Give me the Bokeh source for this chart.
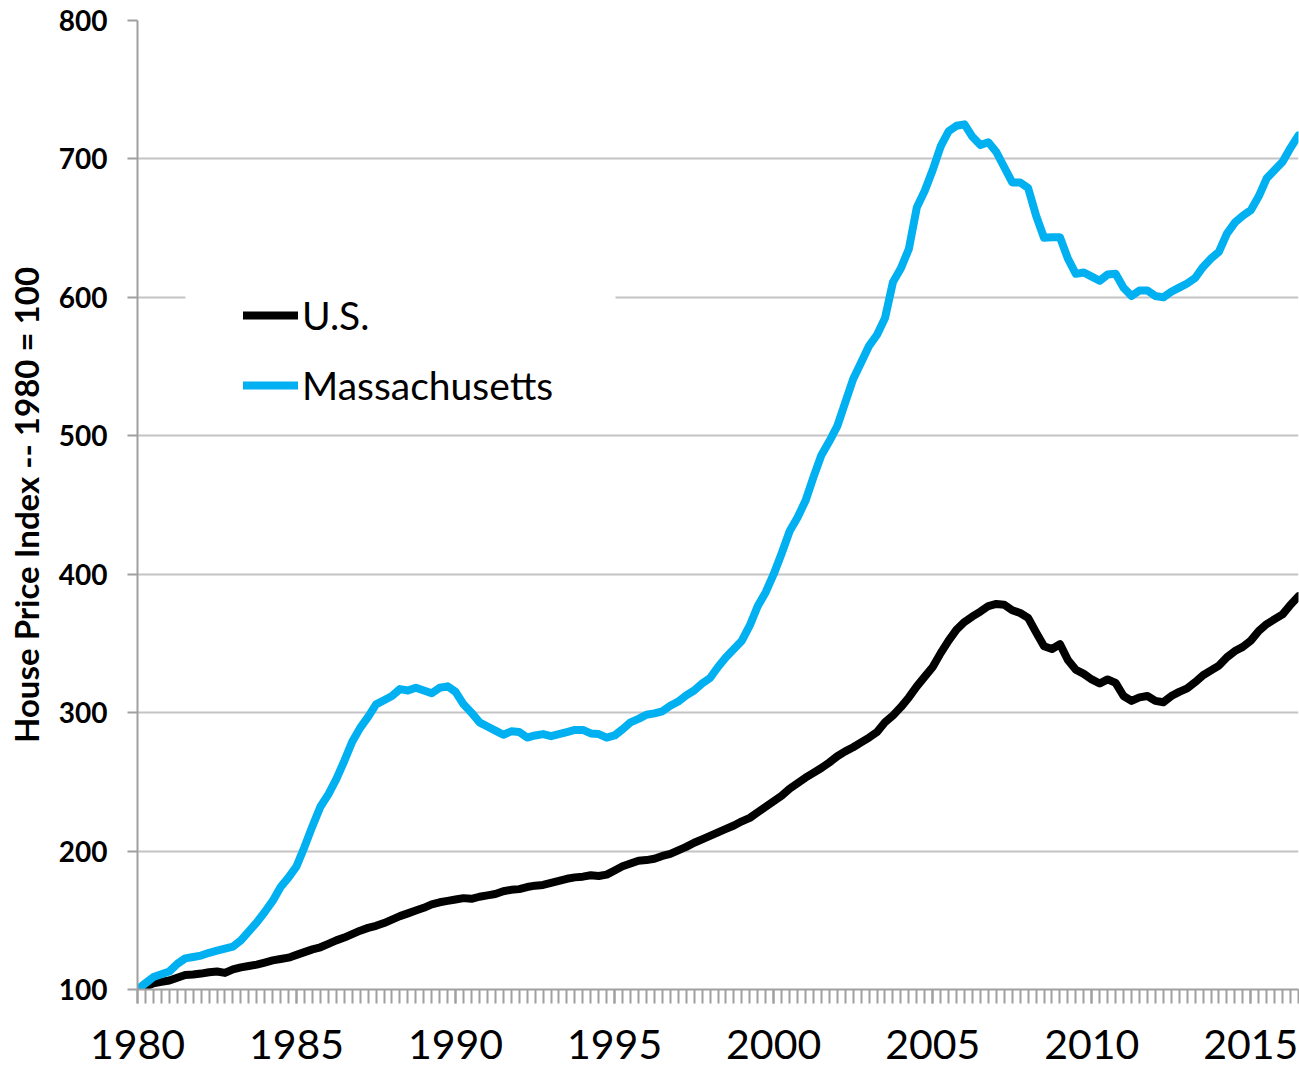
from bokeh.plotting import figure
from bokeh.models import (Range1d, SingleIntervalTicker, Legend, LegendItem,
                          BoxAnnotation, ColumnDataSource)
from bokeh.embed import file_html
from bokeh.resources import INLINE

# ---------------- data (quarterly, 1980Q1 .. 2016Q3) ----------------
start_year = 1980
quarters = [f"{start_year + i // 4}Q{i % 4 + 1}" for i in range(147)]

us = [100, 102, 104.5, 105.5, 106.5, 108.5, 110.5, 110.8, 111.5, 112.5,
      113, 112, 114.5, 116, 117, 118, 119.5, 121, 122, 123,
      125, 127, 129, 130.5, 133, 135.5, 137.5, 140, 142.5, 144.5,
      146, 148, 150.5, 153, 155, 157, 159, 161.5, 163, 164,
      165, 166, 165.5, 167, 168, 169, 171, 172, 172.5, 174,
      175, 175.5, 177, 178.5, 180, 181, 181.5, 182.5, 182, 183,
      186, 189, 191, 193, 193.5, 194.5, 196.5, 198, 200.5, 203,
      206, 208.5, 211, 213.5, 216, 218.5, 221.5, 224, 228, 232,
      236, 240, 245, 249, 253, 256.5, 260, 264, 268.5, 272,
      275, 278.5, 282, 286, 293, 298, 304, 311, 319, 326,
      333, 343, 352, 360, 365.5, 369.5, 373, 377, 378.5, 378,
      374, 372, 368.5, 358, 348, 346, 349.5, 338, 331, 328,
      324, 321, 324, 321.5, 312, 308.5, 311, 312, 308.5, 307.5,
      312, 315, 317.5, 322, 327, 330.5, 334, 340, 344.5, 347.5,
      352, 359, 364, 367.5, 371, 378, 384]

massachusetts = [100, 104.5, 109, 111, 113, 118.5, 122.5, 123.5, 124.5, 126.5,
                 128, 129.5, 131, 135.5, 142, 148.5, 156, 164, 174, 181,
                 189, 203, 218, 232, 241, 252, 265, 279, 289, 297,
                 306, 309, 312, 317, 316, 318, 316, 314, 318, 319,
                 315, 306, 300, 293, 290, 287, 284, 286.5, 286, 282,
                 283.5, 284.5, 283, 284.5, 286, 287.5, 287.5, 285, 284.5, 282,
                 283.5, 288, 293, 295.5, 298.5, 299.5, 301, 305, 308, 312.5,
                 316, 321, 325, 333, 340, 346, 352, 363, 377, 387,
                 400, 415, 431, 441, 453, 470, 486, 496, 507, 524,
                 541, 553, 565, 573, 585, 611, 621, 635, 665, 677,
                 692, 709, 720, 724, 725, 716, 710, 712, 705, 694,
                 683, 683, 679, 659, 643, 643.5, 643.5, 628, 617, 618,
                 615, 612, 616.5, 617, 607, 601, 605, 605, 601, 600,
                 604, 607, 610, 614, 622, 628, 633, 646, 654, 659,
                 663, 673, 686, 692, 698, 708, 717]

series_names = ["U.S.", "Massachusetts"]
y_title = "House Price Index -- 1980 = 100"

# numeric x position of each quarter
x = [int(q[:4]) + (int(q[-1]) - 1) / 4 for q in quarters]
src = ColumnDataSource(dict(x=x, us=us, ma=massachusetts))

FONT = "Lato"

p = figure(width=1299, height=1071, output_backend="svg", toolbar_location=None,
           x_range=Range1d(x[0], x[-1]), y_range=Range1d(100, 800),
           min_border_left=137, min_border_right=1, min_border_top=20,
           min_border_bottom=82)
p.outline_line_color = None
p.background_fill_color = "white"

# grid
p.xgrid.grid_line_color = None
p.ygrid.grid_line_color = "#C4C4C4"
p.ygrid.grid_line_width = 2

# x axis
xa = p.xaxis[0]
xa.ticker = SingleIntervalTicker(interval=5, num_minor_ticks=20)
xa.axis_line_color = "#A0A0A0"
xa.axis_line_width = 2
xa.major_tick_line_color = "#A0A0A0"
xa.minor_tick_line_color = "#A0A0A0"
xa.major_tick_line_width = 2
xa.minor_tick_line_width = 2
xa.major_tick_in = 0
xa.minor_tick_in = 0
xa.major_tick_out = 14
xa.minor_tick_out = 14
xa.major_label_text_font = FONT
xa.major_label_text_font_size = "41px"
xa.major_label_text_color = "black"
xa.major_label_standoff = 26

# y axis
ya = p.yaxis[0]
ya.ticker = SingleIntervalTicker(interval=100, num_minor_ticks=0)
ya.axis_line_color = "#A0A0A0"
ya.axis_line_width = 2
ya.major_tick_line_color = "#A0A0A0"
ya.major_tick_line_width = 2
ya.major_tick_in = 0
ya.major_tick_out = 10
ya.minor_tick_line_color = None
ya.major_label_text_font = FONT
ya.major_label_text_font_style = "bold"
ya.major_label_text_font_size = "28px"
ya.major_label_text_color = "black"
ya.major_label_standoff = 20
ya.axis_label = y_title
ya.axis_label_text_font = FONT
ya.axis_label_text_font_style = "bold"
ya.axis_label_text_font_size = "33px"
ya.axis_label_text_color = "black"
ya.axis_label_standoff = 10

# series
r_us = p.line("x", "us", source=src, line_color="black", line_width=8,
              line_cap="round", line_join="round")
r_ma = p.line("x", "ma", source=src, line_color="#00B0F0", line_width=8,
              line_cap="round", line_join="round")

# white area behind the legend (hides the gridline there)
legend_bg = BoxAnnotation(left=48, right=478, bottom=574, top=704,
                          left_units="screen", right_units="screen",
                          bottom_units="screen", top_units="screen",
                          fill_color="white", fill_alpha=1.0, line_color=None)
p.add_layout(legend_bg)

legend = Legend(items=[LegendItem(label=series_names[0], renderers=[r_us]),
                       LegendItem(label=series_names[1], renderers=[r_ma])],
                location=(106, 581), margin=0, padding=0,
                background_fill_alpha=0, border_line_color=None,
                glyph_width=55, glyph_height=34, label_height=34,
                label_standoff=4, spacing=24,
                label_text_font=FONT, label_text_font_size="39px",
                label_text_color="black")
p.add_layout(legend)

open("out.html", "w").write(file_html(p, INLINE))
